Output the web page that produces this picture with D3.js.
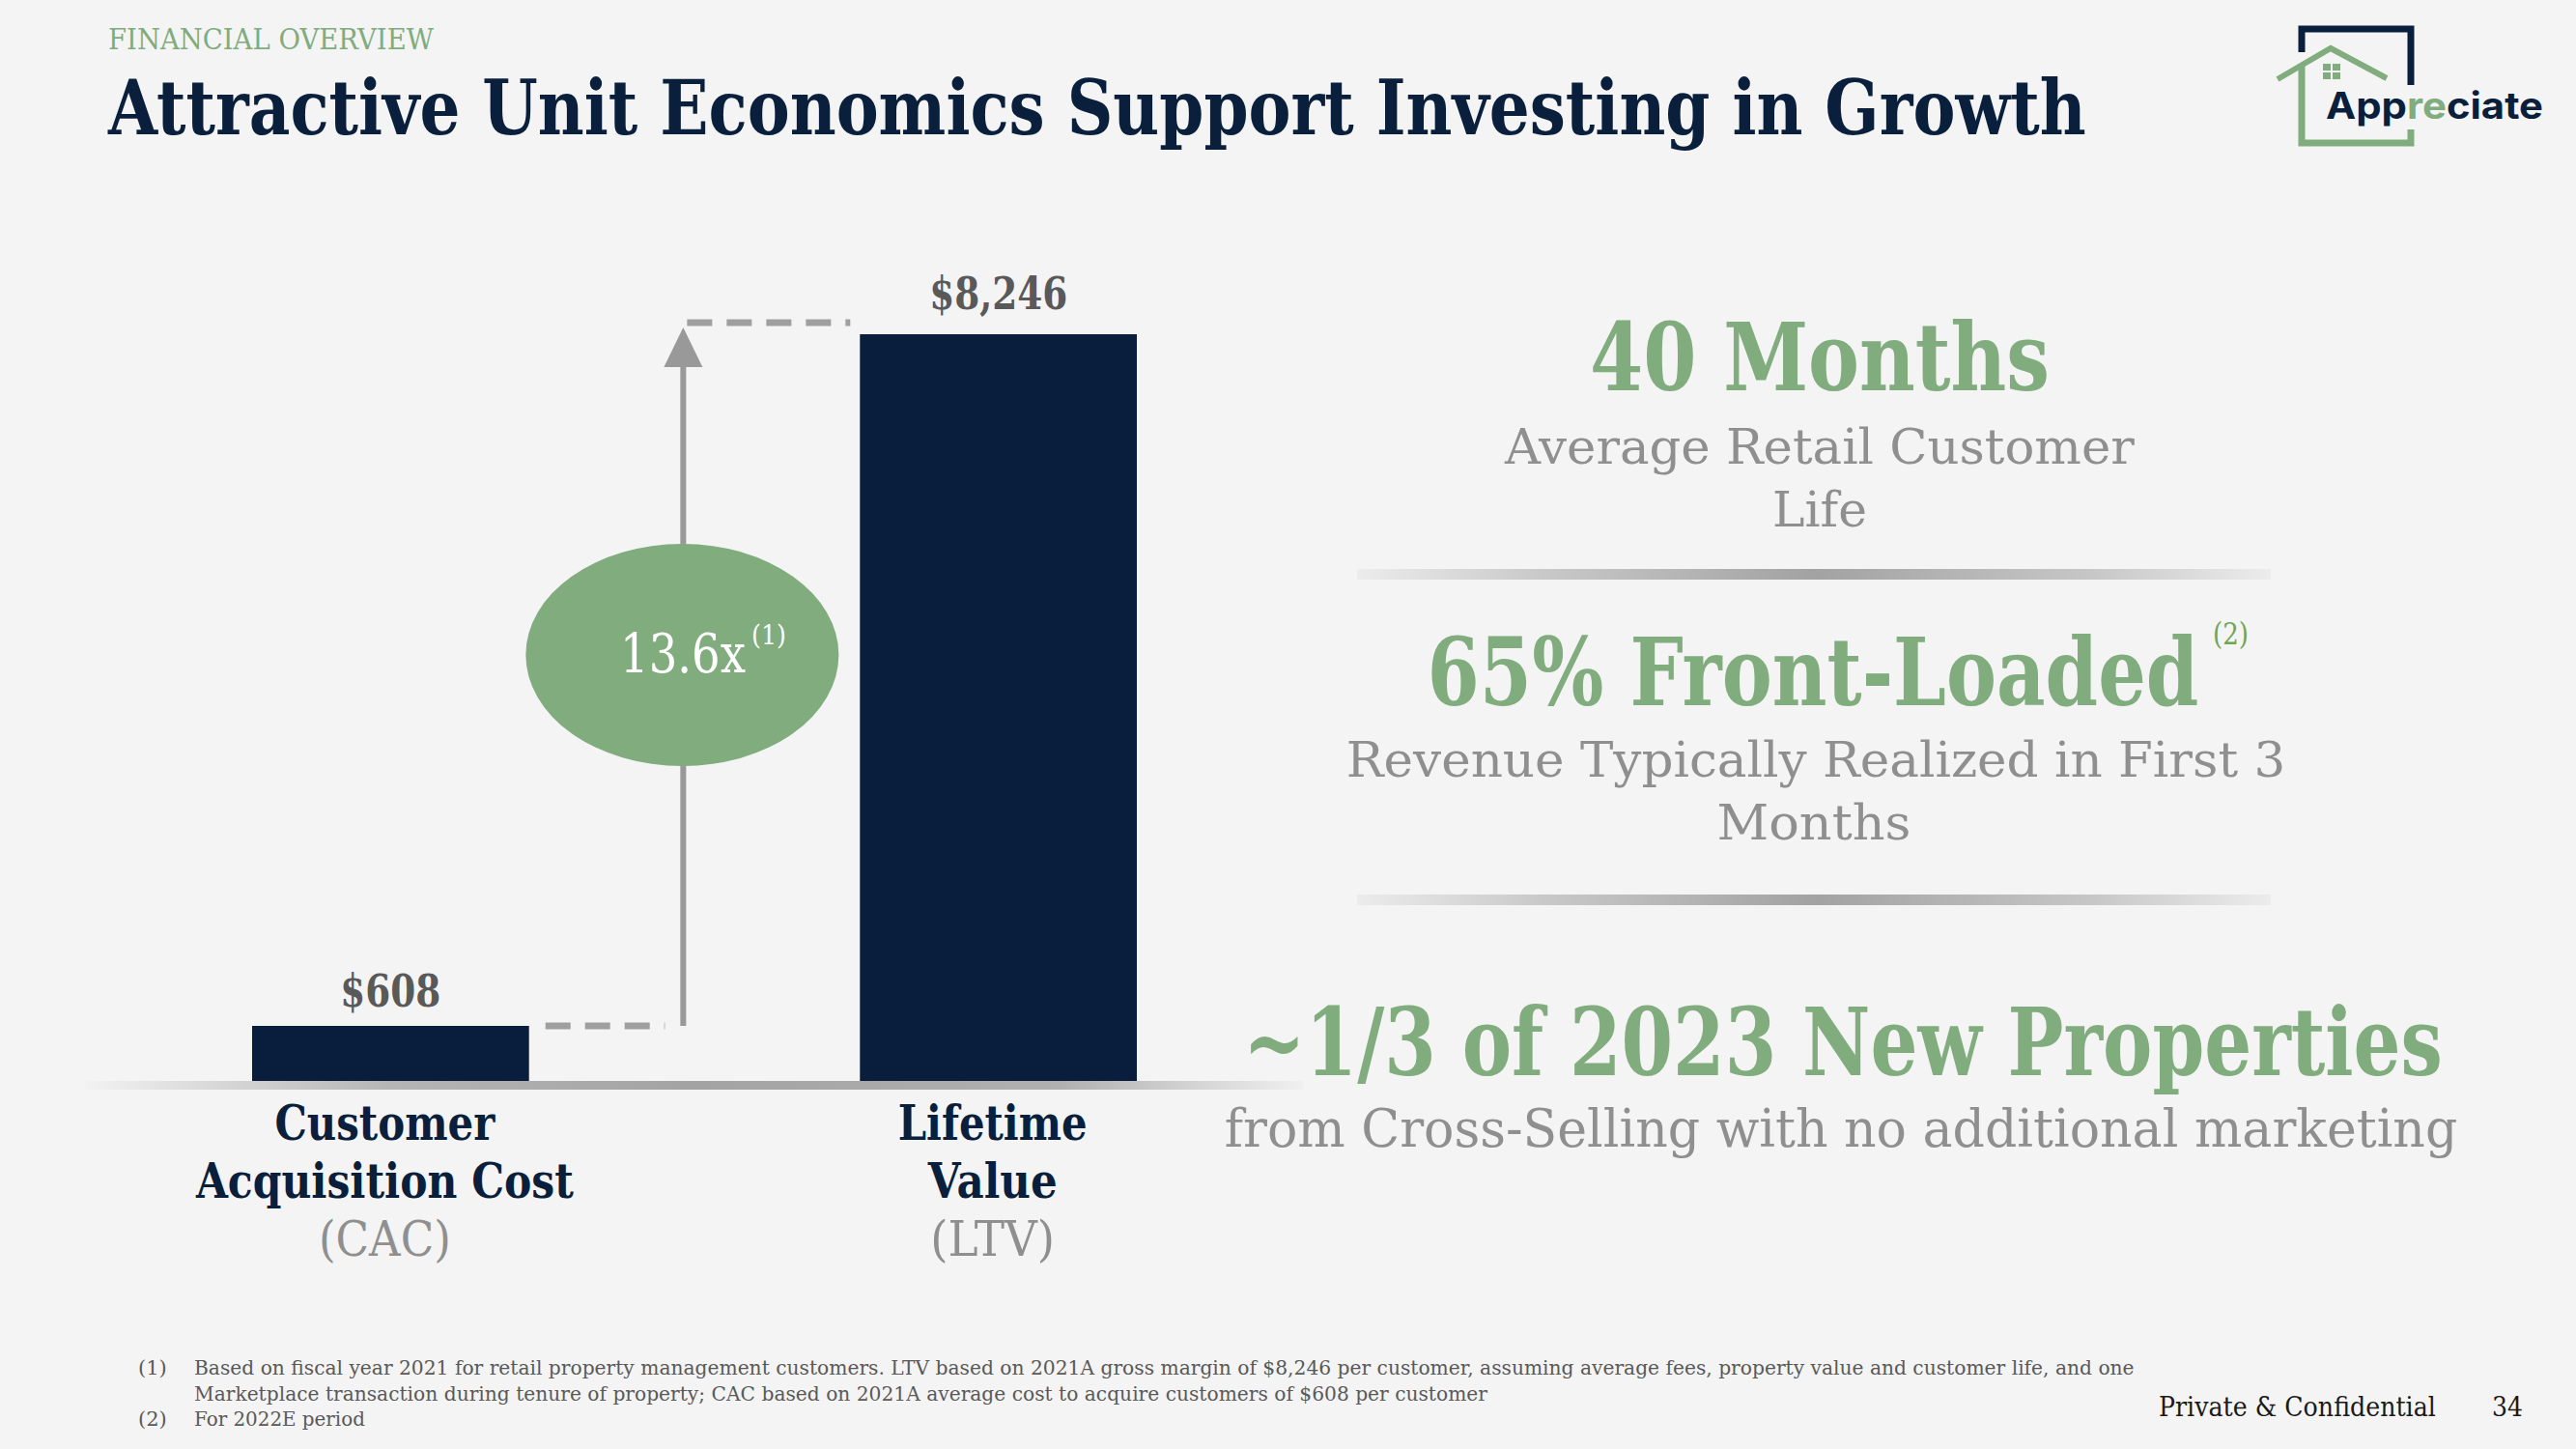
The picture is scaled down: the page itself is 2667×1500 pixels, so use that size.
<!DOCTYPE html>
<html><head><meta charset="utf-8">
<script src="https://cdnjs.cloudflare.com/ajax/libs/d3/7.8.5/d3.min.js"></script>
<style>
html,body{margin:0;padding:0;background:#f4f4f4;}
svg{display:block;}
</style></head>
<body>
<script>
// ---------- data ----------
const categories = ["Customer Acquisition Cost", "Lifetime Value"];
const categoryLines = [["Customer", "Acquisition Cost", "(CAC)"], ["Lifetime", "Value", "(LTV)"]];
const values = [608, 8246];
const valueLabels = ["$608", "$8,246"];
const multipleLabel = "13.6x";
const multipleNote = "(1)";
const statHeadlines = ["40 Months", "65% Front-Loaded", "~1/3 of 2023 New Properties"];
const statNotes = ["", "(2)", ""];
const statSublines = [["Average Retail Customer", "Life"], ["Revenue Typically Realized in First 3", "Months"], ["from Cross-Selling with no additional marketing"]];
const footnotes = [
  ["(1)", "Based on fiscal year 2021 for retail property management customers. LTV based on 2021A gross margin of $8,246 per customer, assuming average fees, property value and customer life, and one"],
  ["", "Marketplace transaction during tenure of property; CAC based on 2021A average cost to acquire customers of $608 per customer"],
  ["(2)", "For 2022E period"]
];
const kicker = "FINANCIAL OVERVIEW";
const title = "Attractive Unit Economics Support Investing in Growth";

// ---------- setup ----------
const W = 2667, H = 1500;
const NAVY = "#0a1f3c", GREEN = "#80ac7e", GRAY = "#8f8f8f", DGRAY = "#595959";
const SERIF = "'DejaVu Serif', 'Liberation Serif', serif";
const svg = d3.select("body").append("svg").attr("width", W).attr("height", H);
svg.append("rect").attr("width", W).attr("height", H).attr("fill", "#f4f4f4");
const defs = svg.append("defs");

function grad(id, stops) {
  const g = defs.append("linearGradient").attr("id", id).attr("x1", "0%").attr("x2", "100%").attr("y1", "0%").attr("y2", "0%");
  stops.forEach(s => g.append("stop").attr("offset", s[0]).attr("stop-color", s[1]));
}
grad("baseGrad", [["0%", "#f2f2f2"], ["25%", "#b5b5b5"], ["50%", "#a3a3a3"], ["80%", "#b0b0b0"], ["100%", "#f0f0f0"]]);
grad("divGrad", [["0%", "#ececec"], ["20%", "#c9c9c9"], ["50%", "#a2a2a2"], ["80%", "#c6c6c6"], ["100%", "#ececec"]]);

// text drawn at natural size, then scaled horizontally to the measured width of the reference
function txt(parent, str, x, y, o) {
  const t = parent.append("text").attr("x", 0).attr("y", 0).text(str)
    .attr("font-family", o.family || SERIF)
    .attr("font-size", o.size)
    .attr("font-weight", o.weight || "normal")
    .attr("fill", o.fill || "#000")
    .attr("text-anchor", o.anchor || "start");
  let sx = 1;
  if (o.len) {
    const nat = t.node().getComputedTextLength();
    if (nat > 0) sx = o.len / nat;
  }
  t.attr("transform", `translate(${x},${y}) scale(${sx},1)`);
  return t;
}

// ---------- header ----------
txt(svg, kicker, 112, 51, {size: 30, fill: GREEN, len: 337});
txt(svg, title, 112, 139, {size: 78, weight: "bold", fill: NAVY, len: 2048});

// logo
const logo = svg.append("g");
logo.append("path").attr("d", "M2383,54 V30 H2496 V88").attr("fill", "none").attr("stroke", NAVY).attr("stroke-width", 7);
logo.append("path").attr("d", "M2383,66 V148 H2496 V134").attr("fill", "none").attr("stroke", GREEN).attr("stroke-width", 7);
logo.append("path").attr("d", "M2358,82 L2413,50 L2471,81").attr("fill", "none").attr("stroke", GREEN).attr("stroke-width", 6).attr("stroke-linejoin", "miter");
[[2405, 66], [2415, 66], [2405, 75], [2415, 75]].forEach(p =>
  logo.append("rect").attr("x", p[0]).attr("y", p[1]).attr("width", 8).attr("height", 7).attr("fill", GREEN));
const lt = logo.append("text").attr("x", 2408).attr("y", 123)
  .attr("font-family", "Inter, 'Open Sans', sans-serif").attr("font-size", 38).attr("font-weight", 700)
  .attr("textLength", 225).attr("lengthAdjust", "spacingAndGlyphs");
lt.append("tspan").text("App").attr("fill", NAVY);
lt.append("tspan").text("re").attr("fill", GREEN);
lt.append("tspan").text("ciate").attr("fill", NAVY);

// ---------- bar chart ----------
const x = d3.scaleBand().domain(categories).range([261, 1177]).paddingInner(0.5444).paddingOuter(0);
const y = d3.scaleLinear().domain([0, d3.max(values)]).range([1119, 346]);
const bw = x.bandwidth();
const data = categories.map((c, i) => ({c, v: values[i], label: valueLabels[i], lines: categoryLines[i]}));

// baseline
svg.append("rect").attr("x", 88).attr("y", y(0)).attr("width", 1261).attr("height", 9).attr("fill", "url(#baseGrad)");

svg.selectAll("rect.bar").data(data).join("rect").attr("class", "bar")
  .attr("x", d => x(d.c)).attr("y", d => y(d.v)).attr("width", bw).attr("height", d => y(0) - y(d.v))
  .attr("fill", "#081e3c");

const valW = [104, 143];
data.forEach((d, i) => {
  txt(svg, d.label, x(d.c) + bw / 2, y(d.v) - (i === 0 ? 20 : 26), {size: 46, weight: "bold", fill: DGRAY, anchor: "middle", len: valW[i]});
});

// category labels
const catW = [[228, 391, 137], [196, 134, 129]];
data.forEach((d, i) => {
  const cx = x(d.c) + bw / 2 - 6;
  d.lines.forEach((ln, j) => {
    txt(svg, ln, cx, 1180 + j * 60, {size: 50, weight: j < 2 ? "bold" : "normal", fill: j < 2 ? NAVY : GRAY, anchor: "middle", len: catW[i][j]});
  });
});

// connectors
const x0end = x(categories[0]) + bw, x1start = x(categories[1]);
const ax = x0end + 0.466 * (x1start - x0end);
const dashStyle = s => s.attr("stroke", "#9f9f9f").attr("stroke-width", 7).attr("stroke-dasharray", "26,15").attr("fill", "none");
svg.append("line").attr("x1", x0end + 17).attr("x2", ax - 19).attr("y1", y(values[0])).attr("y2", y(values[0])).call(dashStyle);
svg.append("line").attr("x1", ax + 4).attr("x2", x1start - 10).attr("y1", y(values[1]) - 12).attr("y2", y(values[1]) - 12).call(dashStyle);
svg.append("line").attr("x1", ax).attr("x2", ax).attr("y1", y(values[0])).attr("y2", y(values[1]) + 30)
  .attr("stroke", "#999").attr("stroke-width", 6);
const tipY = y(values[1]) - 7;
svg.append("path").attr("d", `M${ax},${tipY} L${ax - 20},${tipY + 41} L${ax + 20},${tipY + 41} Z`).attr("fill", "#999");

// ellipse
const ey = (y(values[0]) + y(values[1])) / 2 - 26;
svg.append("ellipse").attr("cx", ax - 1).attr("cy", ey).attr("rx", 162).attr("ry", 115).attr("fill", GREEN);
txt(svg, multipleLabel, 642, ey + 18, {size: 56, weight: "normal", fill: "#fff", len: 130});
txt(svg, multipleNote, 778, ey - 11, {size: 28, fill: "#fff", len: 36});

// ---------- right stats ----------
const R = svg.append("g");
txt(R, statHeadlines[0], 1884, 404, {size: 98, weight: "bold", fill: GREEN, anchor: "middle", len: 476});
txt(R, statSublines[0][0], 1884, 480, {size: 50, fill: GRAY, anchor: "middle", len: 652});
txt(R, statSublines[0][1], 1884, 545, {size: 50, fill: GRAY, anchor: "middle", len: 98});
R.append("rect").attr("x", 1405).attr("y", 589).attr("width", 946).attr("height", 11).attr("fill", "url(#divGrad)");

txt(R, statHeadlines[1], 1877, 730, {size: 98, weight: "bold", fill: GREEN, anchor: "middle", len: 799});
txt(R, statNotes[1], 2291, 667, {size: 32, fill: "#6fa552", len: 37});
txt(R, statSublines[1][0], 1880, 804, {size: 50, fill: GRAY, anchor: "middle", len: 973});
txt(R, statSublines[1][1], 1878, 869, {size: 50, fill: GRAY, anchor: "middle", len: 201});
R.append("rect").attr("x", 1405).attr("y", 926).attr("width", 946).attr("height", 11).attr("fill", "url(#divGrad)");

txt(R, statHeadlines[2], 1908, 1113, {size: 98, weight: "bold", fill: GREEN, anchor: "middle", len: 1242});
txt(R, statSublines[2][0], 1906, 1187, {size: 54, fill: GRAY, anchor: "middle", len: 1277});

// ---------- footer ----------
const fnLen = [2010, 1339, 177];
footnotes.forEach((f, i) => {
  const yy = 1423 + i * 26.5;
  if (f[0]) txt(svg, f[0], 143, yy, {size: 21, fill: DGRAY});
  txt(svg, f[1], 201, yy, {size: 21, fill: DGRAY, len: fnLen[i]});
});
txt(svg, "Private & Confidential", 2235, 1466, {size: 28, fill: "#1a1a1a", len: 287});
txt(svg, "34", 2580, 1466, {size: 28, fill: "#1a1a1a", len: 32});
</script>
</body></html>
